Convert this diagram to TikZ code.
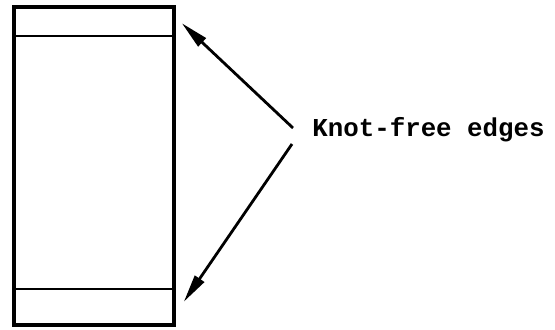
\documentclass[tikz,border=0pt]{standalone}
\usepackage{fontspec}
\setmonofont{Liberation Mono}
\usetikzlibrary{arrows.meta,positioning}

\begin{document}
\begin{tikzpicture}[
  x=0.5pt, y=-0.5pt,
  panel/.style={draw, line width=1.8pt, minimum width=80pt, minimum height=159pt, inner sep=0pt},
  divider/.style={line width=1.1pt},
  pointer/.style={-{Triangle[length=14pt, width=5.5pt]}, line width=1.4pt},
  note/.style={font=\ttfamily\bfseries\fontsize{12.9}{15}\selectfont, inner sep=4pt, anchor=west}
]
\useasboundingbox (0,0) rectangle (555,330);
\node[panel] (board) at (94,166) {};
\draw[divider] ([yshift=-15.5pt]board.north west) -- ([yshift=-15.5pt]board.north east);
\draw[divider] ([yshift=19pt]board.south west) -- ([yshift=19pt]board.south east);
\node[note] (lbl) at (304,130) {Knot-free edges};
\coordinate (topedge) at ([shift={(3pt,-9pt)}]board.north east);
\coordinate (botedge) at ([shift={(4pt,12.5pt)}]board.south east);
\draw[pointer] ([shift={(-11,-2)}]lbl.west) -- (topedge);
\draw[pointer] ([shift={(-12,14)}]lbl.west) -- (botedge);
\end{tikzpicture}
\end{document}
